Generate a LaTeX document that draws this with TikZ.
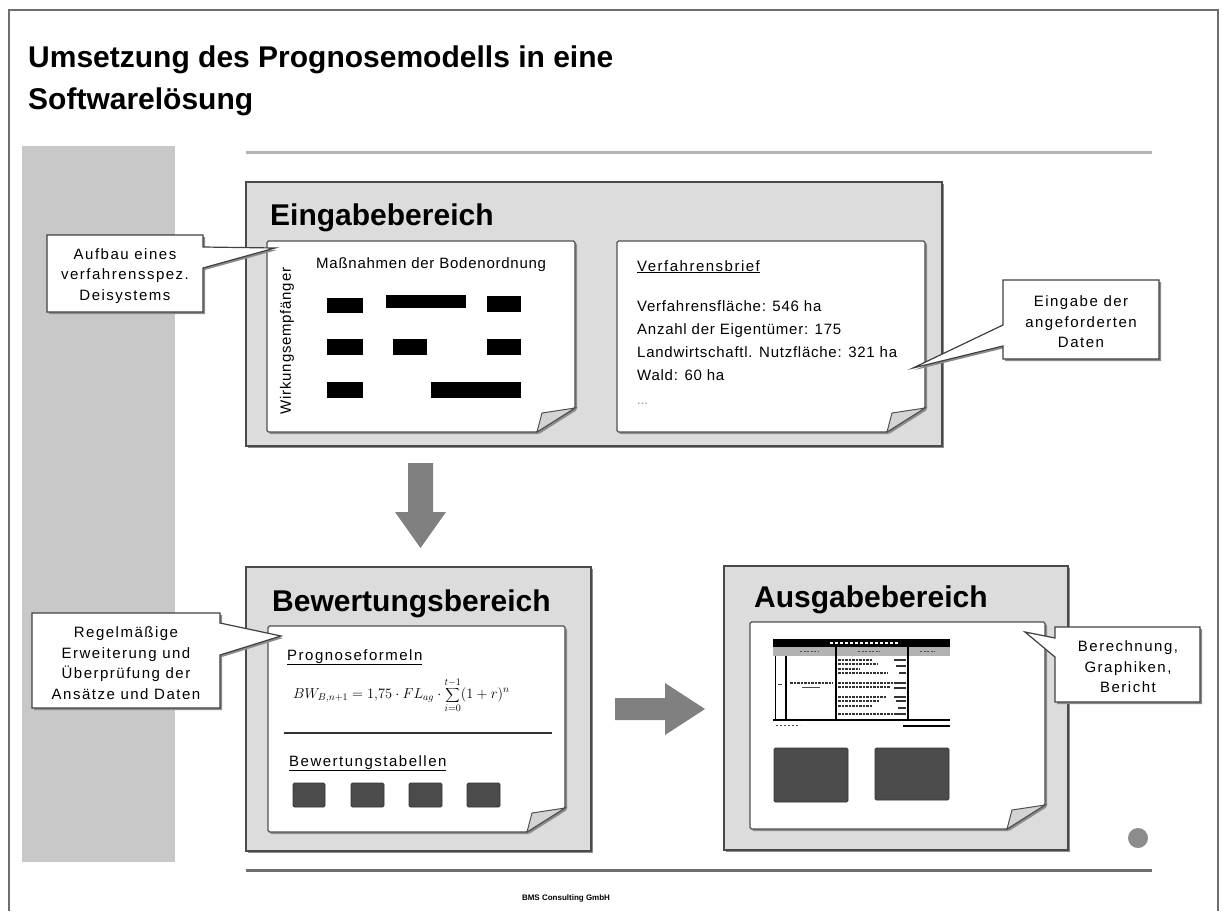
\documentclass[tikz,border=0pt]{standalone}
\usepackage{fontspec}
\setmainfont{Liberation Sans}
\newfontfamily\callfont[LetterSpace=10]{Liberation Sans}
\newfontfamily\datafont[LetterSpace=5]{Liberation Sans}
\usetikzlibrary{shadows}
\definecolor{frameC}{HTML}{6E6E6E}
\definecolor{barC}{HTML}{C8C8C8}
\definecolor{ruleTop}{HTML}{B4B4B4}
\definecolor{ruleBot}{HTML}{6E6E6E}
\definecolor{boxFill}{HTML}{DCDCDC}
\definecolor{boxLine}{HTML}{4A4A4A}
\definecolor{arrowC}{HTML}{808080}
\definecolor{darkSq}{HTML}{4B4B4B}
\definecolor{foldC}{HTML}{D4D4D4}
\definecolor{paperLine}{HTML}{505050}
\tikzset{
  shad/.style={drop shadow={shadow xshift=2pt,shadow yshift=-2pt,fill=black!45,opacity=1}},
  area/.style={fill=boxFill,draw=boxLine,line width=2.6pt,shad},
  paperline/.style={draw=paperLine,line width=1.2pt},
  callout/.style={fill=white,draw=black!75,line width=1.2pt,shad},
  calltext/.style={align=center,font=\callfont\fontsize{15}{20.5}\selectfont,inner sep=0pt},
  boxtitle/.style={anchor=base west,inner sep=0pt,font=\bfseries\fontsize{30}{30}\selectfont},
  bar/.style={fill=black},
  sq/.style={fill=darkSq,draw=black!80,line width=0.8pt,rounded corners=1.5pt},
  blockarrow/.style={fill=arrowC},
}
\newcommand\drawpaper[4]{%
  \path[paperline,fill=white,rounded corners=1.5pt,shad] (#1,#2) -- (#3,#2) -- (#3,#4-24) -- (#3-38,#4) -- (#1,#4) -- cycle;
  \draw[paperline,fill=foldC,line width=1pt] (#3-38,#4) -- (#3-33,#4-19) -- (#3,#4-24) -- cycle;}
\begin{document}
\begin{tikzpicture}[x=1pt,y=-1pt]
\useasboundingbox (0,0) rectangle (1224,911);
% outer frame
\draw[frameC,line width=1.5pt] (9,911) -- (9,10) -- (1218,10) -- (1218,911);
% title
\node[boxtitle] (title1) at (28,67) {Umsetzung des Prognosemodells in eine};
\node[boxtitle] (title2) at (28,109) {Softwarelösung};
% side bar and rules
\fill[barC] (22,146) rectangle (175,862);
\draw[ruleTop,line width=3pt] (246,152) -- (1152,152);
\draw[ruleBot,line width=3pt] (246,870) -- (1152,870);
\node[font=\bfseries\fontsize{8}{8}\selectfont] (footer) at (566,898) {BMS Consulting GmbH};

% ---------- Eingabebereich ----------
\path[area] (246,182) rectangle (942,446);
\node[boxtitle] (eing) at (270,225) {Eingabebereich};
\drawpaper{267}{241}{575}{432}
\node[anchor=base west,inner sep=0pt,font=\datafont\fontsize{15}{15}\selectfont] (mass) at (316,268) {Maßnahmen der Bodenordnung};
\node[rotate=90,inner sep=0pt,font=\datafont\fontsize{15}{15}\selectfont] (wirk) at (287,341) {Wirkungsempfänger};
\fill[bar] (327,298) rectangle (363,313);
\fill[bar] (386,295) rectangle (466,308);
\fill[bar] (487,296) rectangle (521,312);
\fill[bar] (327,339) rectangle (363,355);
\fill[bar] (393,339) rectangle (427,355);
\fill[bar] (487,339) rectangle (521,355);
\fill[bar] (327,382) rectangle (363,398);
\fill[bar] (431,382) rectangle (521,398);

\drawpaper{617}{241}{925}{432}
\node[anchor=base west,inner sep=0pt,font=\callfont\fontsize{15}{15}\selectfont] (vbrief) at (637,271) {\underline{Verfahrensbrief}};
\node[anchor=base west,inner sep=0pt,align=left,font=\datafont\fontsize{15}{23}\selectfont] (vdata) at (637,380)
  {Verfahrensfläche: 546 ha\\Anzahl der Eigentümer: 175\\Landwirtschaftl. Nutzfläche: 321 ha\\Wald: 60 ha};
\node[anchor=base west,inner sep=0pt,text=black!45,font=\fontsize{13}{13}\selectfont] (dots) at (637,404) {...};

% ---------- down arrow ----------
\fill[blockarrow] (408,463) -- (433,463) -- (433,512) -- (446,512) -- (420.5,548) -- (395,512) -- (408,512) -- cycle;

% ---------- Bewertungsbereich ----------
\path[area] (246,567) rectangle (591,851);
\node[boxtitle] (bew) at (272,611) {Bewertungsbereich};
\drawpaper{268}{626}{565}{832}
\node[anchor=base west,inner sep=0pt,font=\callfont\fontsize{15}{15}\selectfont] (progn) at (287,660) {\underline{Prognoseformeln}};
\node[anchor=west,inner sep=0pt,font=\fontsize{14.5}{16}\selectfont] (formel) at (293,695)
  {$\displaystyle BW_{B,n+1} = 1{,}75\cdot FL_{ag}\cdot\sum_{i=0}^{t-1}(1+r)^n$};
\draw[black!80,line width=1.3pt] (284,733) -- (552,733);
\node[anchor=base west,inner sep=0pt,font=\callfont\fontsize{15}{15}\selectfont] (bewtab) at (289,766) {\underline{Bewertungstabellen}};
\path[sq] (293,783) rectangle (325,807);
\path[sq] (351,783) rectangle (384,807);
\path[sq] (409,783) rectangle (442,807);
\path[sq] (467,783) rectangle (500,807);

% ---------- right arrow ----------
\fill[blockarrow] (615,698) -- (665,698) -- (665,683) -- (705,709) -- (665,735) -- (665,720) -- (615,720) -- cycle;

% ---------- Ausgabebereich ----------
\path[area] (724,566) rectangle (1068,850);
\node[boxtitle] (ausg) at (754,607) {Ausgabebereich};
\drawpaper{750}{622}{1045}{829}
% table screenshot
\fill[black] (773,639) rectangle (950,647);
\draw[white,line width=1.2pt,dash pattern=on 3pt off 2pt] (830,643) -- (900,643);
\fill[black!30] (773,647) rectangle (950,656);
\draw[black!70,line width=1pt,dash pattern=on 2pt off 1.5pt] (800,651.5) -- (818,651.5) (858,651.5) -- (880,651.5) (920,651.5) -- (935,651.5);
\draw[black,line width=0.6pt] (775,656) -- (775,720);
\draw[black,line width=1.8pt] (786,656) -- (786,720);
\draw[black,line width=1.1pt] (836,647) -- (836,720);
\draw[black,line width=1.1pt] (908,647) -- (908,720);
\draw[black,line width=1.8pt] (773,720) -- (950,720);
\draw[black,line width=1.1pt] (903,726) -- (950,726);
\draw[black!70,line width=1pt,dash pattern=on 2pt off 2pt] (776,725) -- (800,725);
\foreach \yy/\xe in {660/872,664/878,669/860,673/888,683/905,687/890,697/886,701/880,706/872,714/900}
  \draw[black!80,line width=1.3pt,dash pattern=on 2.5pt off 1pt] (838,\yy) -- (\xe,\yy);
\foreach \yy/\xs in {660/894,666/896,673/899,683/896,688/894,697/894,701/896,708/898,714/894}
  \draw[black!80,line width=1.3pt] (\xs,\yy) -- (906,\yy);
\draw[black!80,line width=1.3pt,dash pattern=on 2.5pt off 1pt] (790,683) -- (833,683);
\draw[black!70,line width=1pt] (802,687) -- (820,687);
\draw[black!70,line width=1pt] (778,684) -- (782,684);
\path[sq] (774,748) rectangle (848,802);
\path[sq] (875,748) rectangle (949,800);
\fill[black!45] (1138,838) circle (10);

% ---------- callouts ----------
\path[callout] (47,235) -- (203,235) -- (203,247) -- (275,248) -- (203,268) -- (203,312) -- (47,312) -- cycle;
\node[calltext] (c1) at (125,276) {Aufbau eines\\verfahrensspez.\\Deisystems};

\path[callout] (1003,280) -- (1159,280) -- (1159,359) -- (1003,359) -- (1003,346) -- (913,368) -- (1003,325) -- cycle;
\node[calltext] (c2) at (1081,322) {Eingabe der\\angeforderten\\Daten};

\path[callout] (32,613) -- (220,613) -- (220,623) -- (281,636) -- (220,655) -- (220,708) -- (32,708) -- cycle;
\node[calltext] (c3) at (126,663) {Regelmäßige\\Erweiterung und\\Überprüfung der\\Ansätze und Daten};

\path[callout] (1055,627) -- (1200,627) -- (1200,702) -- (1055,702) -- (1055,657) -- (1025,632) -- (1055,638) -- cycle;
\node[calltext] (c4) at (1128,667) {Berechnung,\\Graphiken,\\Bericht};
\end{tikzpicture}
\end{document}
